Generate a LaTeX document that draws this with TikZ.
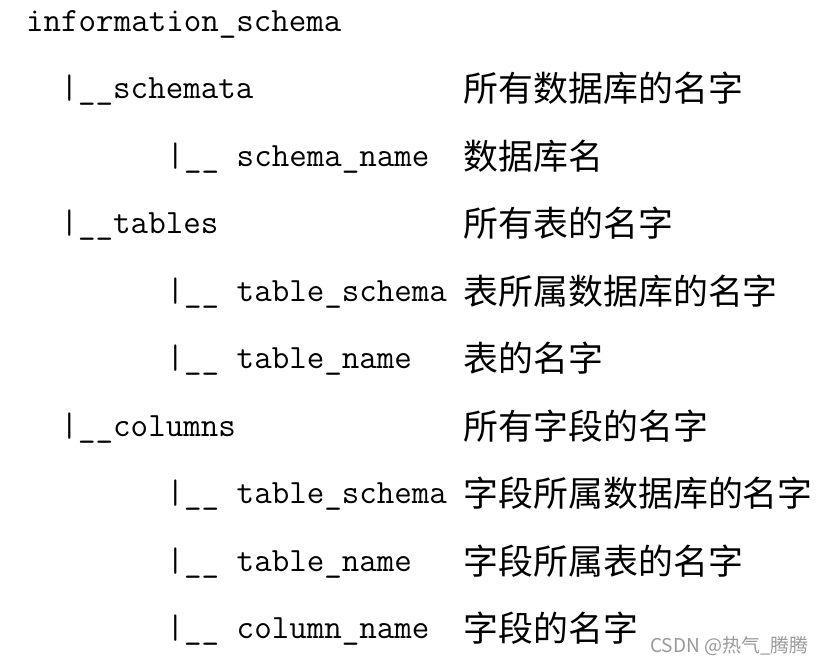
\documentclass[tikz,border=0pt]{standalone}
\usepackage{fontspec}
\newfontfamily\cjk{Noto Sans CJK SC}
\begin{document}
\begin{tikzpicture}[x=1pt,y=-1pt,
  mono/.style={anchor=base west,inner sep=0pt,font=\fontsize{34}{35}\selectfont\ttfamily},
  zh/.style={anchor=base west,inner sep=0pt,font=\fontsize{34.9}{36}\selectfont\cjk},
  wm/.style={anchor=base west,inner sep=0pt,text=black!40,font=\fontsize{19}{20}\selectfont\cjk}]
\useasboundingbox[fill=white] (0,0) rectangle (824,664);
\def\la{26}
\def\lb{60.5}
\def\lc{166.5}
\def\cx{463.5}
\node[mono] (root) at (\la,31) {information\_schema};
\node[mono] (t1) at (\lb,98.5) {|\_\_schemata};
\node[zh] (d1) at (\cx,101.5) {所有数据库的名字};
\node[mono] (t2) at (\lc,166) {|\_\_ schema\_name};
\node[zh] (d2) at (\cx,169) {数据库名};
\node[mono] (t3) at (\lb,233.5) {|\_\_tables};
\node[zh] (d3) at (\cx,236.5) {所有表的名字};
\node[mono] (t4) at (\lc,301) {|\_\_ table\_schema};
\node[zh] (d4) at (\cx,304) {表所属数据库的名字};
\node[mono] (t5) at (\lc,368.5) {|\_\_ table\_name};
\node[zh] (d5) at (\cx,371.5) {表的名字};
\node[mono] (t6) at (\lb,436) {|\_\_columns};
\node[zh] (d6) at (\cx,439) {所有字段的名字};
\node[mono] (t7) at (\lc,503.5) {|\_\_ table\_schema};
\node[zh] (d7) at (\cx,506.5) {字段所属数据库的名字};
\node[mono] (t8) at (\lc,571) {|\_\_ table\_name};
\node[zh] (d8) at (\cx,574) {字段所属表的名字};
\node[mono] (t9) at (\lc,638.5) {|\_\_ column\_name};
\node[zh] (d9) at (\cx,641.5) {字段的名字};
\node[wm] (wmk) at (650,652) {CSDN @热气\_腾腾};
\end{tikzpicture}
\end{document}
